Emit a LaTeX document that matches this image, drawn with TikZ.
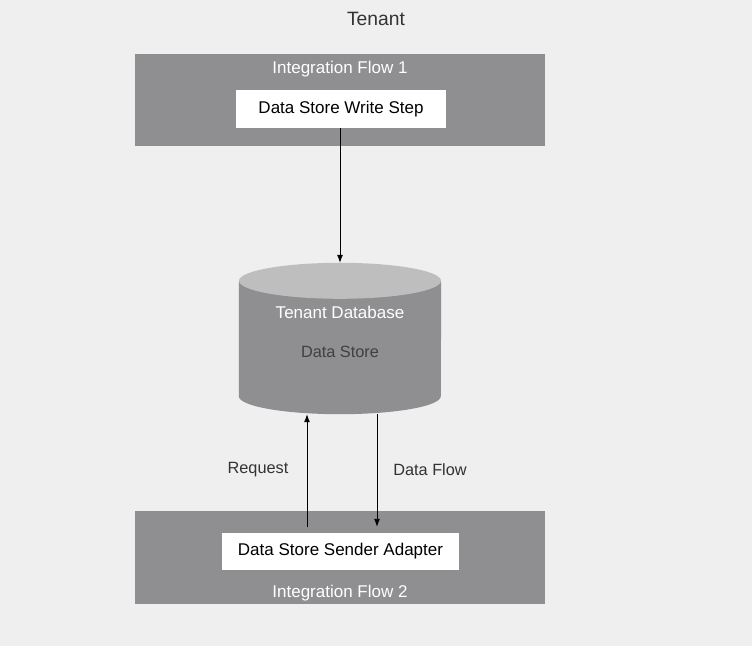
\documentclass[tikz,border=0pt]{standalone}
\usepackage{fontspec}
\setmainfont{Liberation Sans}
\usepackage{xcolor}
\usetikzlibrary{positioning,arrows.meta}
\definecolor{flowgray}{HTML}{8F8F91}
\definecolor{capgray}{HTML}{BEBEBE}
\definecolor{backgray}{HTML}{EFEFEF}
\definecolor{textgray}{HTML}{333333}
\tikzstyle{flowbox} = [fill=flowgray,rectangle,minimum width=410pt,inner sep=0pt]
\tikzstyle{stepbox} = [fill=white,rectangle,inner sep=0pt,minimum height=37pt,
  font=\fontsize{17}{20}\selectfont,text=black]
\tikzstyle{flowtitle} = [text=white,font=\fontsize{17}{20}\selectfont]
\tikzstyle{flowlabel} = [text=textgray,font=\fontsize{16.3}{19}\selectfont]
\tikzstyle{flowarrow} = [-{Latex[length=8pt,width=6pt]},line width=0.9pt,black]

\begin{document}
\begin{tikzpicture}[x=1pt,y=1pt]
    \fill [backgray] (0,0) rectangle (752,646);
    \useasboundingbox (0,0) rectangle (752,646);
    \node [text=textgray,font=\fontsize{19.3}{22}\selectfont] (tenant) at (376,627) {Tenant};
    % first integration flow
    \node [flowbox,minimum height=92pt] (flow1) at (340,546) {};
    \node [flowtitle] (flow1title) at (340,577) {Integration Flow 1};
    \node [stepbox,minimum width=210pt,minimum height=38pt] (write) at (341,537) {Data Store Write Step};
    % tenant database
    \node [rectangle,minimum width=202pt,minimum height=151pt,inner sep=0pt] (db) at (340,307.5) {};
    \fill [flowgray] ([yshift=-18pt]db.north west) -- ([yshift=18pt]db.south west)
      arc [start angle=180,end angle=360,x radius=101pt,y radius=18pt]
      -- ([yshift=-18pt]db.north east) -- cycle;
    \fill [capgray] ([yshift=-18pt]db.north) ellipse [x radius=101pt,y radius=18pt];
    \node [flowtitle] (dbtitle) at (340,334) {Tenant Database};
    \node [flowlabel,text=black!75] (store) at (340,294) {Data Store};
    % second integration flow
    \node [flowbox,minimum height=93pt] (flow2) at (340,88.5) {};
    \node [stepbox,minimum width=237pt] (sender) at (340.5,94.5) {Data Store Sender Adapter};
    \node [flowtitle] (flow2title) at (340,53) {Integration Flow 2};
    % connectors
    \coordinate (req) at ([xshift=-33.5pt,yshift=6pt]sender.north);
    \coordinate (resp) at ([xshift=36.5pt,yshift=6pt]sender.north);
    \draw [flowarrow] (write.south -| db.north) -- (db.north);
    \draw [flowarrow] (req) -- (req |- db.south);
    \draw [flowarrow] (resp |- db.south) -- (resp);
    \node [flowlabel] (reqlabel) at (258,176) {Request};
    \node [flowlabel] (flowlabel) at (430,176) {Data Flow};
\end{tikzpicture}
\end{document}
